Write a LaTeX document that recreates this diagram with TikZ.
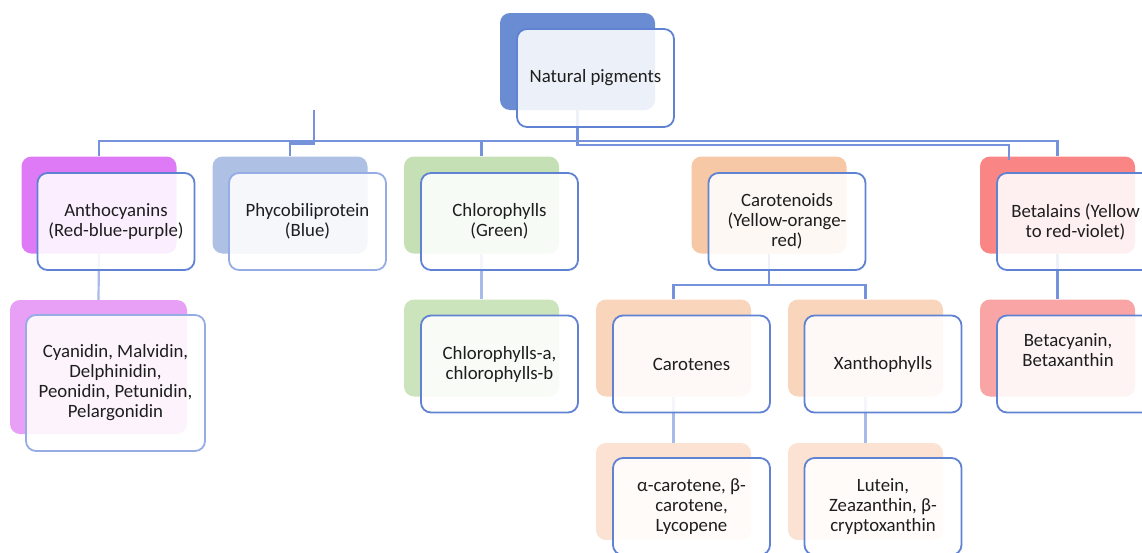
\documentclass[tikz,border=0pt]{standalone}
\usepackage{fontspec}
\setmainfont{Carlito}
\definecolor{txt}{RGB}{30,30,30}
\definecolor{lnk}{RGB}{118,146,218}
\definecolor{lnkl}{RGB}{168,186,232}
\definecolor{bd}{RGB}{96,130,210}
\definecolor{bdl}{RGB}{150,172,228}
\definecolor{cTop}{RGB}{106,140,210}
\definecolor{cAnt}{RGB}{223,122,247}
\definecolor{cAntC}{RGB}{232,160,246}
\definecolor{cPhy}{RGB}{174,192,228}
\definecolor{cChl}{RGB}{197,224,180}
\definecolor{cChlC}{RGB}{203,228,188}
\definecolor{cCar}{RGB}{246,200,165}
\definecolor{cCarC}{RGB}{249,213,188}
\definecolor{cCarG}{RGB}{251,226,210}
\definecolor{cBet}{RGB}{250,133,133}
\definecolor{cBetC}{RGB}{249,165,165}
\tikzset{
  back/.style={rectangle, rounded corners=10pt, minimum width=155pt, minimum height=97pt, draw=none, inner sep=0pt, fill=#1},
  front/.style={rectangle, rounded corners=10pt, minimum width=157pt, minimum height=97pt, draw=#1, line width=1.8pt, fill=white, fill opacity=0.88, text opacity=1, text=txt, align=center, font=\fontsize{18.8}{20}\selectfont, inner sep=0pt},
  front/.default=bd,
  lbl/.style={text=txt, align=center, font=\fontsize{18.8}{20}\selectfont, inner sep=0pt},
  conn/.style={draw=lnk, line width=2.2pt},
  connl/.style={draw=lnkl, line width=2.2pt}
}
\begin{document}
\begin{tikzpicture}[x=1pt,y=-1pt]
\useasboundingbox (0,0) rectangle (1142,552);
% back boxes
\node[back=cTop] (topb) at (577.5,61.5) {};
\node[back=cAnt] (antb) at (99,205) {};
\node[back=cPhy] (phyb) at (290,205) {};
\node[back=cChl] (chlb) at (481.5,205) {};
\node[back=cCar] (carb) at (769,205) {};
\node[back=cBet] (betb) at (1057.5,205) {};
\node[back=cAntC, minimum width=177pt, minimum height=134pt] (antcb) at (98.5,367) {};
\node[back=cChlC] (chlcb) at (481.5,348) {};
\node[back=cCarC] (cteb) at (673.5,348) {};
\node[back=cCarC] (xanb) at (865.5,348) {};
\node[back=cBetC] (bcyb) at (1057.5,348) {};
\node[back=cCarG] (alpb) at (673.5,491.5) {};
\node[back=cCarG] (lutb) at (865.5,491.5) {};
% connectors
\coordinate (hA) at (0,141);
\coordinate (hB) at (0,145);
\coordinate (hC) at (0,285);
\coordinate (g1) at (314,110);
\coordinate (g2) at (314,143.5);
\coordinate (d1) at (1009,160);
\draw[conn] (antb.north) -- (antb.north |- hA) -- (betb.north |- hA) -- (betb.north);
\draw[conn] (chlb.north) -- (chlb.north |- hA);
\draw[conn] (g1) -- (g2) -| (phyb.north);
\draw[conn] (topb.south) -- (topb.south |- hB) -| (d1);
\draw[connl] (antb.south) -- (antcb.north);
\draw[connl] (chlb.south) -- (chlcb.north);
\draw[conn] (carb.south) -- (carb.south |- hC);
\draw[conn] (cteb.north) -- (cteb.north |- hC) -- (xanb.north |- hC) -- (xanb.north);
\draw[connl] (cteb.south) -- (alpb.north);
\draw[connl] (xanb.south) -- (lutb.north);
\draw[conn] (betb.south) -- (bcyb.north);
% front boxes
\node[front=bd, minimum height=98pt] (top) at (595.5,78) {Natural pigments};
\node[front] (ant) at (116,221.5) {Anthocyanins\\(Red-blue-purple)};
\node[front=bdl] (phy) at (307.5,221.5) {Phycobiliprotein\\(Blue)};
\node[front] (chl) at (499.5,221.5) {Chlorophylls\\(Green)};
\node[front] (car) at (787,221.5) {Carotenoids\\(Yellow-orange-\\red)};
\node[front] (bet) at (1075.5,221.5) {Betalains (Yellow\\to red-violet)};
\node[front=bdl, minimum width=179pt, minimum height=136pt] (antc) at (115.5,383) {Cyanidin, Malvidin,\\Delphinidin,\\Peonidin, Petunidin,\\Pelargonidin};
\node[front] (chlc) at (499.5,364) {Chlorophylls-a,\\chlorophylls-b};
\node[front] (cte) at (691.5,364) {Carotenes};
\node[front] (xan) at (883,364) {Xanthophylls};
\node[front] (bcy) at (1075.5,364) {};
\node[lbl] (bcyt) at (1068,350) {Betacyanin,\\Betaxanthin};
\node[front] (alp) at (691.5,506.5) {α-carotene, β-\\carotene,\\Lycopene};
\node[front] (lut) at (883,506.5) {Lutein,\\Zeazanthin, β-\\cryptoxanthin};
\end{tikzpicture}
\end{document}
